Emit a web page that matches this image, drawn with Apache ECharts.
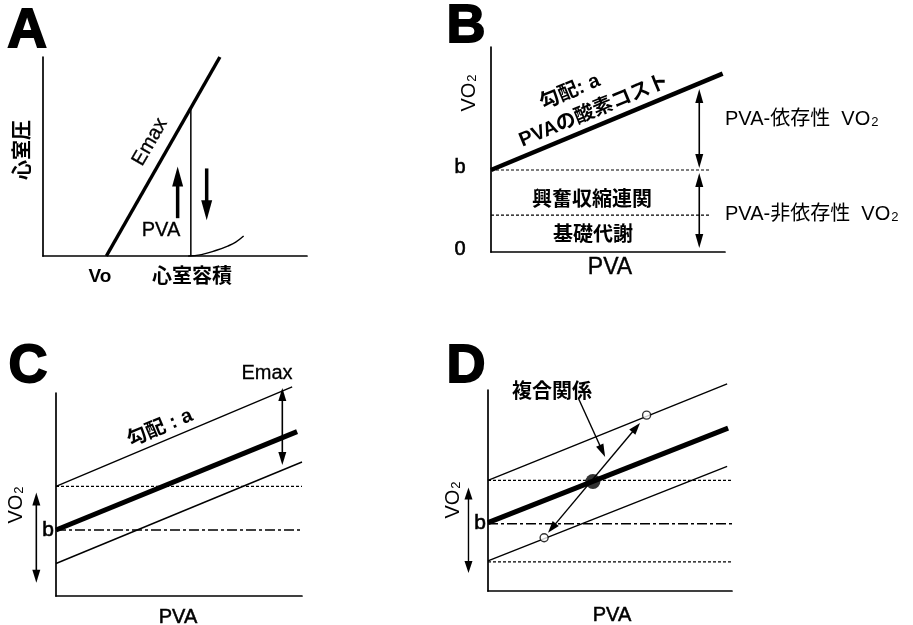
<!DOCTYPE html>
<html><head><meta charset="utf-8">
<script src="https://cdn.jsdelivr.net/npm/echarts@6/dist/echarts.min.js"></script>
<style>html,body{margin:0;padding:0;background:#fff}#c{width:913px;height:625px}</style>
</head><body><div id="c"></div>
<script>
// ---------- DATA (each panel uses its own 0-100 axes) ----------
// Panel A : ventricular pressure vs volume
const aEmaxLine = [[24, 0], [67, 100]];
const aEndSystole = [[56, 0], [56, 74]];
const aEdpvr = [[55, 0], [60, 0.7], [66, 3], [70, 5], [73, 7], [76, 10]];
const aArrows = [[51, 19, 51, 45, 0, 1], [62, 44, 62, 18, 0, 1]]; // x1,y1,x2,y2,headStart,headEnd

// Panel B : VO2 vs PVA
const bVo2Line = [[0, 40], [99, 87]];
const bLevels = [40, 18];            // b level, basal metabolism level
const bLevelEnd = 94;
const bArrows = [[89, 41, 89, 79.5, 1, 1], [89, 38.5, 89, 2, 1, 1]];

// Panel C : Emax shifts
const cUpper = [[0, 54], [96, 103]];
const cMid = [[0, 32.5], [98, 81]];
const cLower = [[0, 16], [100, 66]];
const cDotted = [54];
const cDashDot = [32.5];
const cArrows = [[92, 64.5, 92, 102.5, 1, 1], [-8, 51, -8, 6.5, 1, 1]];

// Panel D : combined relation
const dUpper = [[0, 55], [98, 103]];
const dMid = [[0, 34], [98.4, 81]];
const dLower = [[0, 15], [98, 62]];
const dDotted = [55, 14.5];
const dDashDot = [33.5];
const dOperating = [[43, 54.5]];
const dShifted = [[65, 87.5], [23, 26.5]];
const dArrows = [[24.6, 29, 62.3, 83.6, 1, 1], [-8, 51.5, -8, 9, 1, 1]];
const dPointer = [[37, 96, 48, 66.7, 0, 1]];

// ---------- LAYOUT / STYLE ----------
const LAT = "'Liberation Sans', 'Noto Sans CJK JP', sans-serif";
const grids = [
  {left: 43, top: 57, width: 264, height: 199},
  {left: 491, top: 47, width: 234, height: 205},
  {left: 56, top: 393, width: 246, height: 203},
  {left: 488, top: 390, width: 244, height: 201}
];
const axisBase = (i) => ({
  gridIndex: i, type: 'value', min: 0, max: 100,
  axisLine: {show: true, onZero: false, lineStyle: {color: '#000', width: 1.7}},
  axisTick: {show: false}, axisLabel: {show: false}, splitLine: {show: false}
});

function lineS(gi, data, width, type, smooth) {
  return {type: 'line', xAxisIndex: gi, yAxisIndex: gi, data: data, symbol: 'none', showSymbol: false,
    clip: false, silent: true, smooth: smooth || false, animation: false,
    lineStyle: {color: '#000', width: width, type: type || 'solid', cap: 'butt'}};
}
function hLines(gi, levels, x0, x1, width, type) {
  return levels.map(v => lineS(gi, [[x0, v], [x1, v]], width, type));
}
function arrowS(gi, data, lw, L, W) {
  return {type: 'custom', xAxisIndex: gi, yAxisIndex: gi, data: data, clip: false, silent: true, animation: false,
    renderItem: function (params, api) {
      const p1 = api.coord([api.value(0), api.value(1)]);
      const p2 = api.coord([api.value(2), api.value(3)]);
      const hs = api.value(4), he = api.value(5);
      const dx = p2[0] - p1[0], dy = p2[1] - p1[1];
      const len = Math.sqrt(dx * dx + dy * dy);
      const ux = dx / len, uy = dy / len, nx = -uy, ny = ux;
      const children = [];
      const s = hs ? [p1[0] + ux * L * 0.8, p1[1] + uy * L * 0.8] : p1;
      const e = he ? [p2[0] - ux * L * 0.8, p2[1] - uy * L * 0.8] : p2;
      children.push({type: 'line', shape: {x1: s[0], y1: s[1], x2: e[0], y2: e[1]}, style: {stroke: '#000', lineWidth: lw}});
      function head(tip, dirx, diry) {
        const bx = tip[0] - dirx * L, by = tip[1] - diry * L;
        children.push({type: 'polygon', shape: {points: [tip, [bx + nx * W / 2, by + ny * W / 2], [bx - nx * W / 2, by - ny * W / 2]]},
          style: {fill: '#000'}});
      }
      if (he) head(p2, ux, uy);
      if (hs) head(p1, -ux, -uy);
      return {type: 'group', children: children};
    }};
}

function txt(x, y, text, size, o) {
  o = o || {};
  const st = {text: text, fill: '#000', fontSize: size, fontFamily: o.family || LAT,
    fontWeight: o.bold ? 'bold' : 'normal',
    align: o.align || 'center', textAlign: o.align || 'center',
    verticalAlign: 'middle', textVerticalAlign: 'middle'};
  if (o.rich) st.rich = o.rich;
  if (o.stroke) { st.stroke = '#000'; st.lineWidth = o.stroke; }
  return {type: 'text', x: x, y: y, rotation: o.rot || 0, silent: true, style: st};
}
const richVO2 = {
  a: {fontSize: 20, fontFamily: LAT, lineHeight: 22, verticalAlign: 'bottom'},
  s: {fontSize: 13, fontFamily: LAT, lineHeight: 22, verticalAlign: 'bottom', padding: [0, 0, 0, 1]}
};
const DEG = Math.PI / 180;

const series = [
  // A
  lineS(0, aEmaxLine, 3.5), lineS(0, aEndSystole, 1.5), lineS(0, aEdpvr, 1.4, 'solid', true),
  arrowS(0, aArrows, 3.5, 20, 11),
  // B
  lineS(1, bVo2Line, 4.5),
  ...hLines(1, bLevels, 0, bLevelEnd, 1.2, [3, 2]),
  arrowS(1, bArrows, 1.6, 14, 8),
  // C
  lineS(2, cUpper, 1.4), lineS(2, cMid, 5), lineS(2, cLower, 1.4),
  ...hLines(2, cDotted, 0, 100, 1.2, [3, 2]),
  ...hLines(2, cDashDot, 0, 100, 1.5, [10, 3, 3, 3]),
  arrowS(2, cArrows, 1.6, 13, 8),
  // D
  lineS(3, dUpper, 1.4), lineS(3, dMid, 5), lineS(3, dLower, 1.4),
  ...hLines(3, dDotted, 0, 100, 1.2, [3, 2]),
  ...hLines(3, dDashDot, 0, 100, 1.5, [10, 3, 3, 3]),
  arrowS(3, dArrows, 1.4, 12, 8),
  arrowS(3, dPointer, 1.4, 13, 8),
  {type: 'scatter', xAxisIndex: 3, yAxisIndex: 3, data: dOperating, symbol: 'circle', symbolSize: 15,
    itemStyle: {color: '#000'}, silent: true, animation: false, z: 5},
  {type: 'scatter', xAxisIndex: 3, yAxisIndex: 3, data: dShifted, symbol: 'circle', symbolSize: 8,
    itemStyle: {color: '#fff', borderColor: '#000', borderWidth: 1.4}, silent: true, animation: false, z: 5}
];

const graphics = [
  // panel letters
  txt(27, 32, 'A', 55, {bold: true, stroke: 1.8}),
  txt(466, 27, 'B', 54, {bold: true, stroke: 1.8}),
  txt(28, 367, 'C', 54, {bold: true, stroke: 1.8}),
  txt(466, 367, 'D', 54, {bold: true, stroke: 1.8}),
  // A
  txt(23, 150, '心室圧', 20, {bold: true, rot: 90 * DEG}),
  txt(150, 142, 'Emax', 20, {rot: 60 * DEG, stroke: 0.3}),
  txt(161, 230, 'PVA', 20, {stroke: 0.3}),
  txt(100, 277, 'Vo', 19, {bold: true}),
  txt(192, 277, '心室容積', 20, {bold: true}),
  // B
  txt(468, 93, '{a|VO}{s|2}', 20, {rot: 90 * DEG, rich: richVO2}),
  txt(460, 167, 'b', 20, {stroke: 0.6}),
  txt(460, 249, '0', 20, {stroke: 0.6}),
  txt(570, 92, '勾配: a', 20, {bold: true, rot: 22.5 * DEG}),
  txt(594, 111, 'PVAの酸素コスト', 20, {bold: true, rot: 22.5 * DEG}),
  txt(725, 118, '{a|PVA-依存性  VO}{s|2}', 20, {align: 'left', rich: richVO2}),
  txt(725, 213, '{a|PVA-非依存性  VO}{s|2}', 20, {align: 'left', rich: richVO2}),
  txt(592, 200, '興奮収縮連関', 20, {bold: true}),
  txt(593, 235, '基礎代謝', 20, {bold: true}),
  txt(610, 268, 'PVA', 23, {stroke: 0.4}),
  // C
  txt(267, 373, 'Emax', 20, {stroke: 0.3}),
  txt(160, 428, '勾配 : a', 20, {bold: true, rot: 22.7 * DEG}),
  txt(15, 505, '{a|VO}{s|2}', 20, {rot: 90 * DEG, rich: richVO2}),
  txt(48, 530, 'b', 21, {stroke: 0.6}),
  txt(178, 617, 'PVA', 20, {stroke: 0.5}),
  // D
  txt(552, 392, '複合関係', 20, {bold: true}),
  txt(452, 500, '{a|VO}{s|2}', 20, {rot: 90 * DEG, rich: richVO2}),
  txt(480, 523, 'b', 21, {stroke: 0.6}),
  txt(612, 615, 'PVA', 20, {stroke: 0.5})
];

const chart = echarts.init(document.getElementById('c'), null, {renderer: 'canvas'});
chart.setOption({
  backgroundColor: '#fff',
  animation: false,
  grid: grids,
  xAxis: grids.map((g, i) => axisBase(i)),
  yAxis: grids.map((g, i) => axisBase(i)),
  series: series,
  graphic: {elements: graphics}
});
</script></body></html>
